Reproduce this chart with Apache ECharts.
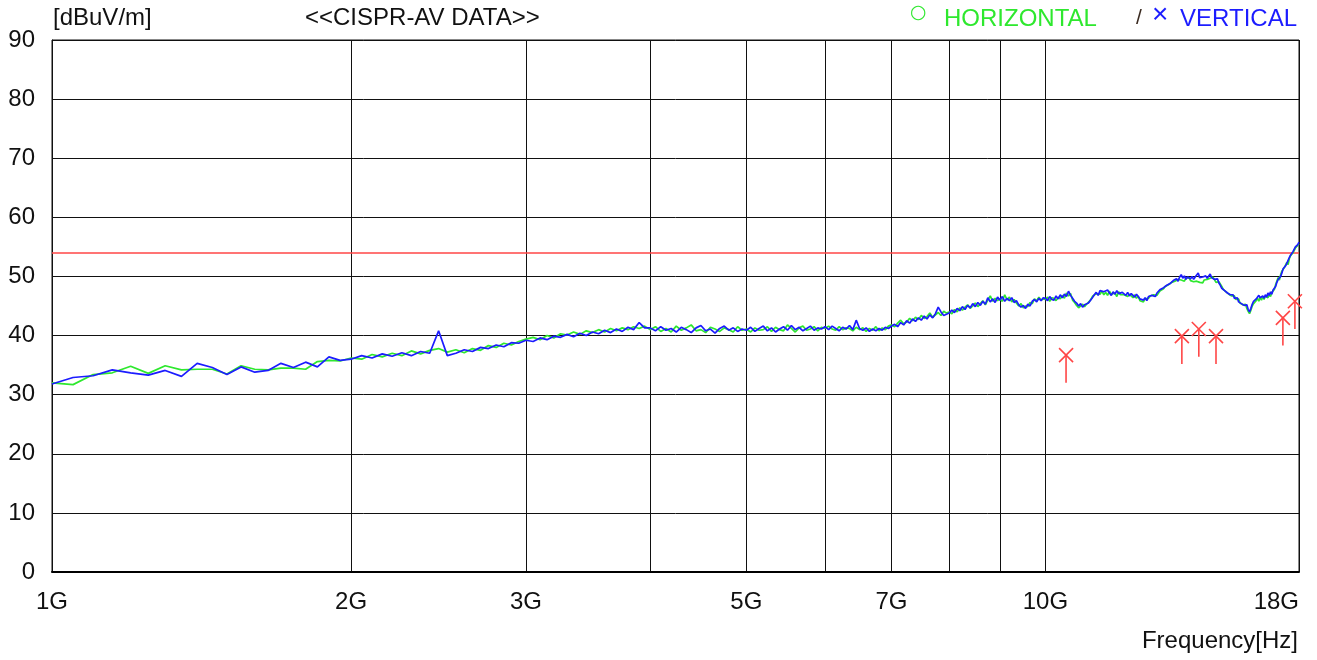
<!DOCTYPE html>
<html><head><meta charset="utf-8">
<script src="https://cdn.jsdelivr.net/npm/echarts@6/dist/echarts.min.js"></script>
<style>html,body{margin:0;padding:0;background:#fff}#c{width:1317px;height:660px}</style>
</head><body><div id="c"></div>
<script>
const FONT = "'Liberation Sans', Arial, sans-serif";
const GREEN = '#2ee82e';
const BLUE = '#1c1cff';
const RED = '#ff4646';

// frequency sampling grid (GHz)
const freqStartGHz = 1.0;
const freqStepGHz = 0.05;

// HORIZONTAL polarisation (dBuV/m), one row per GHz
const horizontal = [
  32.0,31.7,33.4,33.7,34.8,33.6,34.9,34.2,34.3,34.3,33.5,34.9,34.3,34.2,34.5,34.5,34.3,35.6,35.8,35.7,
  36.2,36.0,36.8,36.4,37.0,36.6,37.4,36.9,37.5,37.8,37.2,37.6,37.1,37.8,37.5,38.3,38.0,38.7,38.4,39.0,
  39.4,39.7,39.3,40.0,39.6,40.3,40.1,40.6,40.2,40.8,40.5,41.0,40.6,41.2,40.8,41.3,41.0,41.5,41.2,41.6,
  41.0,41.5,40.7,41.2,40.6,41.6,40.9,41.3,41.8,40.8,41.0,40.5,41.4,41.1,40.7,41.3,41.0,40.6,41.5,40.9,
  41.1,40.6,41.3,40.9,41.0,41.5,40.7,41.4,41.0,40.8,41.8,41.2,40.6,41.3,41.6,40.9,41.1,41.5,40.8,41.4,
  41.2,41.6,41.1,40.9,41.5,41.0,41.3,41.2,40.8,41.4,41.0,41.3,40.7,41.2,40.9,41.5,40.8,41.3,41.0,41.6,
  41.8,41.5,42.1,42.6,42.0,42.3,42.9,42.5,43.1,42.7,43.4,42.9,43.2,43.8,43.1,43.5,43.9,43.4,44.1,43.8,
  44.0,43.7,44.4,44.0,44.7,44.3,44.8,45.2,44.6,45.0,45.5,44.9,45.4,45.9,45.2,46.0,46.7,45.8,46.3,45.9,
  46.2,45.8,46.9,46.0,46.5,45.7,46.1,45.5,45.0,45.4,44.7,45.0,44.9,45.6,45.4,46.2,45.9,46.5,46.0,46.2,
  46.1,46.5,45.8,46.4,46.3,45.9,46.5,46.2,46.8,46.3,47.2,46.7,47.1,46.0,45.6,45.1,44.7,45.0,45.3,44.9,
  45.3,45.0,46.0,46.6,46.3,47.1,47.4,47.0,47.5,46.9,47.3,46.8,47.5,47.0,46.7,47.2,46.6,47.4,46.9,47.0,
  46.9,47.2,46.6,47.0,46.8,46.4,46.9,46.3,46.7,45.9,46.1,45.7,46.2,46.0,46.3,46.7,46.4,46.9,47.1,46.8,
  47.1,47.6,47.3,47.9,48.3,48.0,48.6,48.4,49.0,48.7,49.2,48.9,49.5,49.8,49.4,49.6,49.2,49.7,49.4,49.8,
  49.3,49.6,49.1,49.4,49.2,49.5,49.0,49.3,48.9,49.4,49.1,49.5,49.2,49.7,49.4,49.9,49.6,49.0,48.7,49.1,
  48.8,48.3,47.8,48.1,47.4,47.6,47.0,47.3,46.7,46.4,46.7,46.1,45.8,46.2,45.5,45.7,45.2,44.9,45.3,44.6,
  44.1,43.7,44.3,45.0,45.4,45.1,45.9,46.3,45.8,46.5,46.0,46.6,46.1,46.7,46.9,46.4,47.0,46.6,47.3,47.5,
  47.8,48.6,48.9,49.8,49.4,50.3,50.9,50.6,51.5,51.7,52.4,52.0,53.0,53.5,53.2,54.0,54.3,54.8,55.1,55.3,
  55.5
];

// VERTICAL polarisation (dBuV/m), one row per GHz
const vertical = [
  31.8,32.9,33.2,34.2,33.7,33.3,34.1,33.1,35.3,34.6,33.4,34.7,33.8,34.1,35.3,34.6,35.5,34.7,36.4,35.8,
  36.0,36.6,36.2,36.9,36.5,37.1,36.6,37.3,37.0,40.8,36.6,37.0,37.6,37.3,38.0,37.8,38.4,38.1,38.8,38.7,
  39.2,39.0,39.6,39.3,39.9,39.7,40.2,39.8,40.4,40.0,40.6,40.3,40.9,40.5,41.1,40.7,41.4,41.0,42.2,41.3,
  41.3,40.8,41.5,40.9,41.2,40.6,41.4,41.0,40.5,41.3,41.7,40.8,41.1,40.4,41.2,41.6,40.9,41.3,40.7,41.1,
  40.9,41.4,40.7,41.2,41.6,40.8,41.3,40.6,41.1,41.5,40.9,41.7,41.0,41.4,40.8,41.2,41.6,40.9,41.3,41.1,
  41.5,41.0,41.6,41.2,40.8,41.4,41.1,41.7,41.0,42.6,41.2,40.9,41.3,40.7,41.1,40.8,41.2,40.9,41.4,41.2,
  41.6,41.9,41.5,42.2,41.8,42.5,42.1,42.8,42.4,43.0,42.6,43.3,42.8,43.5,43.0,43.7,44.8,44.0,43.4,43.6,
  43.8,44.3,43.9,44.6,44.2,44.9,44.4,45.1,44.7,45.4,44.9,45.6,45.1,45.8,45.3,46.4,45.7,46.2,45.6,46.5,
  46.0,46.6,45.8,46.3,45.9,46.4,45.6,45.9,45.2,44.8,45.1,44.6,45.3,45.0,45.8,46.1,45.7,46.3,45.9,46.4,
  46.3,45.9,46.6,46.1,46.0,46.7,46.2,46.9,46.4,47.0,46.6,47.5,46.8,46.3,45.8,45.5,45.0,45.4,44.8,45.2,
  45.0,45.5,45.8,46.4,46.9,47.3,46.8,47.6,47.9,47.4,47.1,47.7,47.2,46.8,47.4,47.0,47.6,47.1,46.9,47.3,
  47.2,46.8,47.3,46.7,47.1,46.9,46.5,47.0,46.6,46.2,46.5,46.0,46.4,45.9,46.6,46.3,46.8,47.0,46.6,47.2,
  47.4,47.8,47.5,48.1,47.9,48.5,48.2,48.8,48.6,49.3,49.0,49.6,49.2,49.9,50.3,49.7,50.1,49.5,49.9,50.2,
  49.6,50.0,49.5,49.9,49.7,50.6,49.8,49.5,49.9,49.6,50.1,49.7,50.0,50.4,49.8,50.0,49.5,49.2,49.6,48.9,
  48.5,48.0,48.3,47.6,47.9,47.2,47.5,46.9,46.6,46.9,46.3,46.0,46.4,45.7,45.9,45.4,45.6,45.1,44.8,45.2,
  44.4,44.0,44.6,45.3,45.8,45.5,46.2,46.0,46.8,46.4,46.2,46.7,46.3,46.9,46.5,47.2,46.8,47.4,47.0,47.7,
  47.6,48.3,49.0,49.5,49.2,50.0,50.6,51.3,51.0,51.8,52.2,51.9,53.2,53.6,53.4,54.2,54.5,55.0,54.8,55.4,
  55.8
];

// limit line and final measurement peaks
const limitDb = 54;
const peakFreqGHz = [10.49, 13.72, 14.27, 14.85, 17.34, 17.83];
const peakDb = [36.7, 39.9, 41.1, 39.9, 43.0, 45.8];
const peakStickDb = 4.7;

// axes
const xGridGHz = [1, 2, 3, 4, 5, 6, 7, 8, 9, 10, 18];
const xLabelGHz = [1, 2, 3, 5, 7, 10, 18];
const yMin = 0, yMax = 90, yInterval = 10;

const freqGHz = horizontal.map((_, i) => +(freqStartGHz + i * freqStepGHz).toFixed(2));
const hData = horizontal.map((v, i) => [freqGHz[i], v]);
const vData = vertical.map((v, i) => [freqGHz[i], v]);
const peakData = peakFreqGHz.map((f, i) => [f, peakDb[i]]);

const txt = (extra) => Object.assign({ fontFamily: FONT, fontSize: 24, fontWeight: 'normal', color: '#111' }, extra || {});

const chart = echarts.init(document.getElementById('c'), null, { renderer: 'canvas' });
chart.setOption({
  animation: false,
  backgroundColor: '#fff',
  title: [
    { text: '[dBuV/m]', left: 53, top: 6, padding: 0, textStyle: txt() },
    { text: '<<CISPR-AV DATA>>', left: 305, top: 6, padding: 0, textStyle: txt() },
    { text: '○', left: 910, top: 4, padding: 0, textStyle: txt({ fontFamily: "'DejaVu Sans'", fontSize: 19, color: GREEN }) },
    { text: 'HORIZONTAL', left: 944, top: 7, padding: 0, textStyle: txt({ color: GREEN }) },
    { text: '/', left: 1136, top: 8, padding: 0, textStyle: txt({ fontSize: 21, color: '#3a2a20' }) },
    { text: '×', left: 1152, top: 1, padding: 0, textStyle: txt({ fontSize: 28, color: BLUE }) },
    { text: 'VERTICAL', right: 20, top: 7, padding: 0, textStyle: txt({ color: BLUE }) },
    { text: 'Frequency[Hz]', right: 19, top: 629, padding: 0, textStyle: txt() }
  ],
  grid: { left: 52, right: 18, top: 40, bottom: 88, show: true, borderColor: '#111', borderWidth: 1, backgroundColor: 'transparent' },
  xAxis: {
    type: 'log', logBase: 10, min: 1, max: 18,
    axisLine: { show: true, lineStyle: { color: '#000', width: 2 } },
    axisTick: { show: false, customValues: xGridGHz },
    splitLine: { show: true, lineStyle: { color: '#111', width: 1 } },
    minorTick: { show: false }, minorSplitLine: { show: false },
    axisLabel: {
      customValues: xLabelGHz, margin: 18, color: '#111', fontFamily: FONT, fontSize: 24,
      formatter: (v) => v + 'G', alignMaxLabel: 'right'
    }
  },
  yAxis: {
    type: 'value', min: yMin, max: yMax, interval: yInterval,
    axisLine: { show: true, lineStyle: { color: '#111', width: 1 } },
    axisTick: { show: false },
    splitLine: { show: true, lineStyle: { color: '#111', width: 1 } },
    axisLabel: { margin: 17, color: '#111', fontFamily: FONT, fontSize: 24, padding: [6, 0, 0, 0] }
  },
  series: [
    {
      name: 'HORIZONTAL', type: 'line', data: hData, showSymbol: false, symbol: 'none',
      lineStyle: { color: GREEN, width: 1.7 }, itemStyle: { color: GREEN }, z: 3, silent: true,
      markLine: {
        silent: true, symbol: 'none', label: { show: false }, z: 2,
        lineStyle: { color: RED, width: 1.6, type: 'solid' },
        data: [{ yAxis: limitDb }]
      }
    },
    {
      name: 'VERTICAL', type: 'line', data: vData, showSymbol: false, symbol: 'none',
      lineStyle: { color: BLUE, width: 1.7 }, itemStyle: { color: BLUE }, z: 4, silent: true
    },
    {
      name: 'PEAK', type: 'custom', data: peakData, z: 5, silent: true,
      renderItem: function (params, api) {
        const f = api.value(0), v = api.value(1);
        const p = api.coord([f, v]);
        const b = api.coord([f, v - peakStickDb]);
        const s = 7;
        const st = { stroke: RED, lineWidth: 1.6 };
        return {
          type: 'group', children: [
            { type: 'line', shape: { x1: p[0] - s, y1: p[1] - s, x2: p[0] + s, y2: p[1] + s }, style: st },
            { type: 'line', shape: { x1: p[0] - s, y1: p[1] + s, x2: p[0] + s, y2: p[1] - s }, style: st },
            { type: 'line', shape: { x1: p[0], y1: p[1], x2: b[0], y2: b[1] }, style: st }
          ]
        };
      }
    }
  ]
});
</script></body></html>
